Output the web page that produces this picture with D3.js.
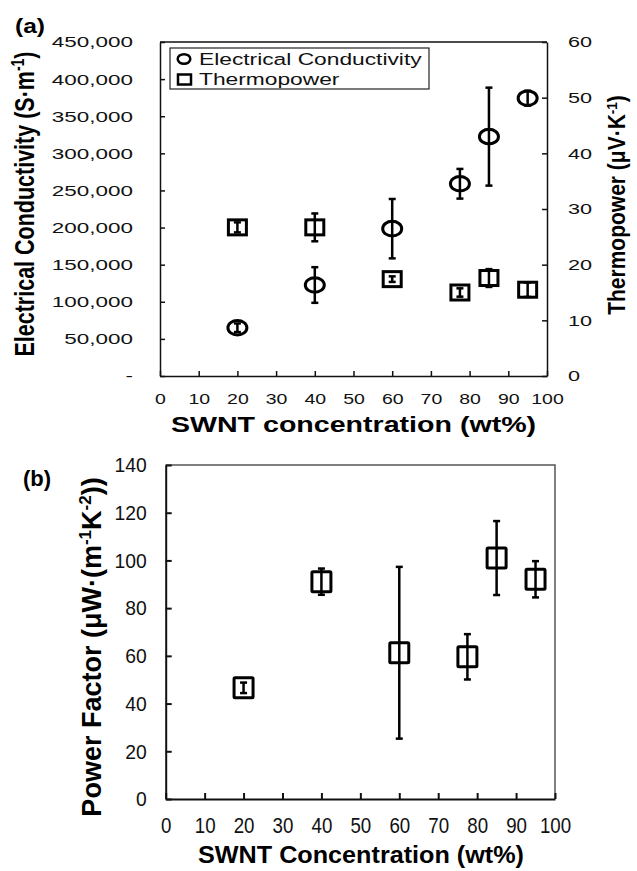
<!DOCTYPE html>
<html lang="en">
  <head>
    <meta charset="utf-8">
    <title>SWNT</title>
    <style media="screen">
      body { margin: 0; background: #fff; }
      svg { font-family: "Liberation Sans", Arial, sans-serif; }
    </style>
  </head>
  <body>
    <div id="graph-div"></div>

    <script src="https://d3js.org/d3.v7.min.js"></script>
    <script type="text/javascript">

    // ---- data ----
    var conc = [20, 40, 60, 77.5, 85, 95];

    // (a) electrical conductivity, S/m
    var sigma    = [65000, 122600, 198500, 259000, 322500, 374300];
    var sigmaErr = [5800, 24000, 40000, 20000, 66000, 10000];

    // (a) thermopower, uV/K
    var thermo    = [26.7, 26.7, 17.4, 15.0, 17.6, 15.5];
    var thermoErr = [0.9, 2.5, 0.5, 0.75, 1.6, 1.3];

    // (b) power factor
    var pf    = [46.6, 91.1, 61.3, 59.6, 101, 92.1];
    var pfErr = [2.2, 5.5, 36, 9.5, 15.5, 7.6];

    var xTicks = d3.range(0, 101, 10);
    var sigmaTicks = d3.range(0, 450001, 50000);
    var thermoTicks = d3.range(0, 61, 10);
    var pfTicks = d3.range(0, 141, 20);

    var svg = d3.select("#graph-div")
      .append("svg")
        .attr("width", 637)
        .attr("height", 871);

    // stretch axis labels horizontally (the original is a scaled bitmap)
    function stretchTicks(g, sx, pad, side) {
      g.selectAll(".tick text")
        .attr("transform", "scale(" + sx + ",1)")
        .attr("x", function() {
          if (side == "left") return -pad / sx;
          if (side == "right") return pad / sx;
          return 0;
        });
    }

    function styleAxis(g, w) {
      g.select(".domain").attr("stroke", "#111").attr("stroke-width", w);
      g.selectAll(".tick line").attr("stroke", "#111").attr("stroke-width", w);
      g.selectAll(".tick text").attr("fill", "#111").style("font-family", "Liberation Sans, Arial, sans-serif");
    }

    // =================== (a) ===================
    var xa = d3.scaleLinear().domain([0, 100]).range([160, 547]);
    var yL = d3.scaleLinear().domain([0, 450000]).range([376, 42]);
    var yR = d3.scaleLinear().domain([0, 60]).range([376, 42]);

    var a = svg.append("g");

    a.append("line")
      .attr("x1", xa(0)).attr("x2", xa(100))
      .attr("y1", yL(450000)).attr("y2", yL(450000))
      .attr("stroke", "#111").attr("stroke-width", 1.5);

    var gxa = a.append("g")
      .attr("transform", "translate(0,376)")
      .call(d3.axisBottom(xa).tickValues(xTicks).tickSizeInner(-5).tickSizeOuter(0).tickPadding(17));
    gxa.selectAll(".tick text").style("font-size", "15px");
    styleAxis(gxa, 1.5);
    stretchTicks(gxa, 1.3, 0, "bottom");

    var gyL = a.append("g")
      .attr("transform", "translate(160,0)")
      .call(d3.axisLeft(yL).tickValues(sigmaTicks).tickSizeInner(-5).tickSizeOuter(0).tickPadding(27)
        .tickFormat(function(d) { return d == 0 ? "-" : d3.format(",")(d); }));
    gyL.selectAll(".tick text").style("font-size", "15.5px");
    styleAxis(gyL, 1.5);
    stretchTicks(gyL, 1.45, 27, "left");

    var gyR = a.append("g")
      .attr("transform", "translate(547,0)")
      .call(d3.axisRight(yR).tickValues(thermoTicks).tickSizeInner(-5).tickSizeOuter(0).tickPadding(21));
    gyR.selectAll(".tick text").style("font-size", "15.5px");
    styleAxis(gyR, 1.5);
    stretchTicks(gyR, 1.4, 21, "right");

    // markers first, error bars on top
    a.selectAll("rect.tp")
      .data(conc)
      .enter()
      .append("rect")
        .attr("class", "tp")
        .attr("x", function(d) { return xa(d) - 9; })
        .attr("y", function(d, i) { return yR(thermo[i]) - 7.5; })
        .attr("width", 18)
        .attr("height", 15)
        .attr("fill", "#fff")
        .attr("stroke", "#000")
        .attr("stroke-width", 3);

    a.selectAll("ellipse.ec")
      .data(conc)
      .enter()
      .append("ellipse")
        .attr("class", "ec")
        .attr("cx", function(d) { return xa(d); })
        .attr("cy", function(d, i) { return yL(sigma[i]); })
        .attr("rx", 9.5)
        .attr("ry", 7.3)
        .attr("fill", "#fff")
        .attr("stroke", "#000")
        .attr("stroke-width", 3);

    function errorBars(g, xs, vals, errs, xsc, ysc) {
      var eb = g.selectAll(null)
        .data(xs)
        .enter()
        .append("g")
          .attr("stroke", "#000")
          .attr("stroke-width", 2.5);
      eb.append("line")
        .attr("x1", function(d) { return xsc(d); })
        .attr("x2", function(d) { return xsc(d); })
        .attr("y1", function(d, i) { return ysc(vals[i] + errs[i]); })
        .attr("y2", function(d, i) { return ysc(vals[i] - errs[i]); });
      [1, -1].forEach(function(s) {
        eb.append("line")
          .attr("x1", function(d) { return xsc(d) - 3.5; })
          .attr("x2", function(d) { return xsc(d) + 3.5; })
          .attr("y1", function(d, i) { return ysc(vals[i] + s * errs[i]); })
          .attr("y2", function(d, i) { return ysc(vals[i] + s * errs[i]); });
      });
    }

    errorBars(a, conc, thermo, thermoErr, xa, yR);
    errorBars(a, conc, sigma, sigmaErr, xa, yL);

    // legend
    a.append("rect")
      .attr("x", 170).attr("y", 48).attr("width", 259).attr("height", 41)
      .attr("fill", "#fff").attr("stroke", "#222").attr("stroke-width", 1.2);
    a.append("ellipse")
      .attr("cx", 184).attr("cy", 59).attr("rx", 6.3).attr("ry", 4.8)
      .attr("fill", "none").attr("stroke", "#000").attr("stroke-width", 2.5);
    a.append("rect")
      .attr("x", 178).attr("y", 74.5).attr("width", 13).attr("height", 10)
      .attr("fill", "none").attr("stroke", "#000").attr("stroke-width", 2.5);
    a.append("text")
      .attr("transform", "translate(199,65) scale(1.34,1)")
      .style("font-size", "17px").attr("fill", "#111")
      .text("Electrical Conductivity");
    a.append("text")
      .attr("transform", "translate(199,85) scale(1.34,1)")
      .style("font-size", "17px").attr("fill", "#111")
      .text("Thermopower");

    // titles
    a.append("text")
      .attr("transform", "translate(15,33) scale(1.23,1)")
      .style("font-size", "20px").style("font-weight", "bold")
      .text("(a)");

    a.append("text")
      .attr("transform", "translate(353.5,431.5) scale(1.3,1)")
      .attr("text-anchor", "middle")
      .style("font-size", "22px").style("font-weight", "bold")
      .text("SWNT concentration (wt%)");

    var tl = a.append("text")
      .attr("transform", "translate(34,204) scale(1.27,1) rotate(-90)")
      .attr("text-anchor", "middle")
      .style("font-size", "21.5px").style("font-weight", "bold");
    tl.append("tspan").text("Electrical Conductivity (S\u00b7m");
    tl.append("tspan").attr("dy", -8).style("font-size", "14px").text("-1");
    tl.append("tspan").attr("dy", 8).text(")");

    var tr = a.append("text")
      .attr("transform", "translate(625,205) scale(1.1,1) rotate(-90)")
      .attr("text-anchor", "middle")
      .style("font-size", "21px").style("font-weight", "bold");
    tr.append("tspan").text("Thermopower (\u03bcV\u00b7K");
    tr.append("tspan").attr("dy", -7).style("font-size", "13.5px").text("-1");
    tr.append("tspan").attr("dy", 7).text(")");

    // =================== (b) ===================
    var xb = d3.scaleLinear().domain([0, 100]).range([165.7, 555]);
    var yb = d3.scaleLinear().domain([0, 140]).range([799, 465]);

    var b = svg.append("g");

    b.append("path")
      .attr("d", "M" + xb(0) + "," + yb(140) + "H" + xb(100) + "V" + yb(0))
      .attr("fill", "none").attr("stroke", "#555").attr("stroke-width", 1.5);

    var gxb = b.append("g")
      .attr("transform", "translate(0,799)")
      .call(d3.axisBottom(xb).tickValues(xTicks).tickSizeInner(-6).tickSizeOuter(0).tickPadding(18));
    gxb.selectAll(".tick text").style("font-size", "22px");
    styleAxis(gxb, 2);
    stretchTicks(gxb, 0.85, 0, "bottom");

    var gyb = b.append("g")
      .attr("transform", "translate(165.7,0)")
      .call(d3.axisLeft(yb).tickValues(pfTicks).tickSizeInner(-6).tickSizeOuter(0).tickPadding(19));
    gyb.selectAll(".tick text").style("font-size", "21px");
    styleAxis(gyb, 2);
    stretchTicks(gyb, 0.92, 19, "left");

    b.selectAll("rect.pf")
      .data(conc)
      .enter()
      .append("rect")
        .attr("class", "pf")
        .attr("x", function(d) { return xb(d) - 9.5; })
        .attr("y", function(d, i) { return yb(pf[i]) - 10; })
        .attr("width", 19)
        .attr("height", 20)
        .attr("rx", 1)
        .attr("fill", "#fff")
        .attr("stroke", "#000")
        .attr("stroke-width", 3);

    errorBars(b, conc, pf, pfErr, xb, yb);

    b.append("text")
      .attr("x", 23).attr("y", 486)
      .style("font-size", "22px").style("font-weight", "bold")
      .text("(b)");

    b.append("text")
      .attr("transform", "translate(361,863) scale(1.05,1)")
      .attr("text-anchor", "middle")
      .style("font-size", "24px").style("font-weight", "bold")
      .text("SWNT Concentration (wt%)");

    var tb = b.append("text")
      .attr("transform", "translate(101,647) rotate(-90)")
      .attr("text-anchor", "middle")
      .style("font-size", "27px").style("font-weight", "bold");
    tb.append("tspan").text("Power Factor (\u03bcW\u00b7(m");
    tb.append("tspan").attr("dy", -10).style("font-size", "17px").text("-1");
    tb.append("tspan").attr("dy", 10).text("K");
    tb.append("tspan").attr("dy", -10).style("font-size", "17px").text("-2");
    tb.append("tspan").attr("dy", 10).text("))");

    </script>
  </body>
</html>
